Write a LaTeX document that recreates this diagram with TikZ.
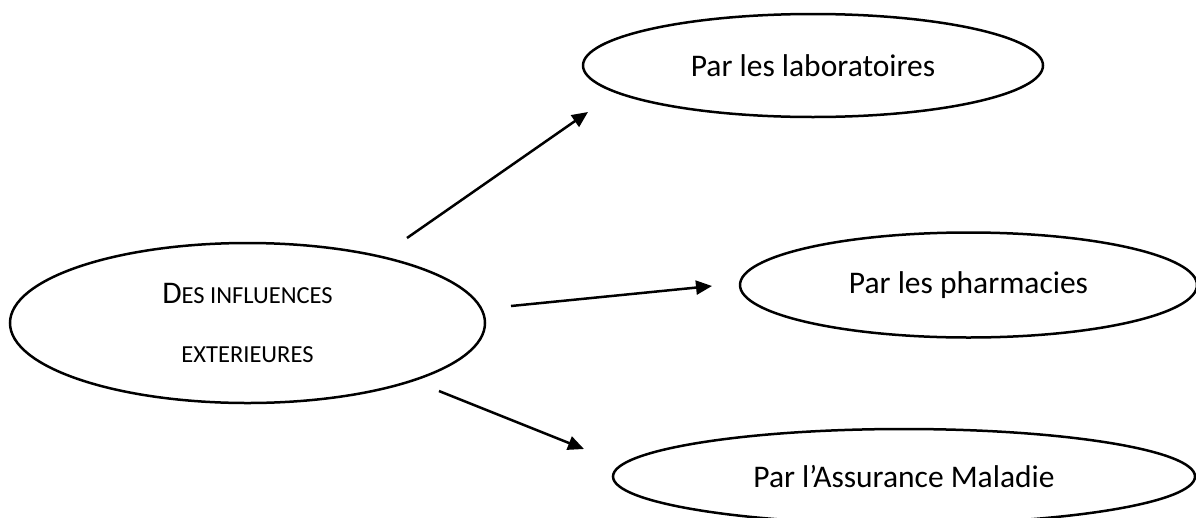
\documentclass[tikz,border=0pt]{standalone}
\usepackage{fontspec}
\setmainfont{Carlito}
\usetikzlibrary{shapes.geometric,arrows.meta}
\newcommand\fakesc[1]{{\fontsize{24.5}{59}\selectfont #1}}
\begin{document}
\begin{tikzpicture}[x=1pt,y=-1pt,
  bubble/.style={draw,ellipse,line width=2.5pt,inner sep=0pt,align=center,
    font=\fontsize{31.5}{38}\selectfont},
  arr/.style={line width=2.5pt,-{Triangle[length=16pt,width=14pt]}}]
\useasboundingbox (0,0) rectangle (1196,517);
\fill[white] (0,0) rectangle (1196,517);
\node[bubble,minimum width=475pt,minimum height=160pt,font=\fontsize{31.5}{59}\selectfont]
  (src) at (247.5,323) {D\fakesc{ES INFLUENCES}\\\fakesc{EXTERIEURES}};
\node[bubble,minimum width=460pt,minimum height=103pt] (lab) at (813,65.5) {Par les laboratoires};
\node[bubble,minimum width=457pt,minimum height=105pt] (pha) at (968.5,285) {Par les pharmacies};
\node[bubble,minimum width=582pt,minimum height=95pt] (ass) at (904,476.5) {Par l’Assurance Maladie};
\coordinate (s1) at ([shift={(159.5,-85)}]src.center);
\coordinate (e1) at ([shift={(-225,46.5)}]lab.center);
\coordinate (s2) at ([shift={(263.5,-17)}]src.center);
\coordinate (e2) at ([shift={(-256.5,1)}]pha.center);
\coordinate (s3) at ([shift={(191.5,68)}]src.center);
\coordinate (e3) at ([shift={(-320,-27.5)}]ass.center);
\draw[arr] (s1) -- (e1);
\draw[arr] (s2) -- (e2);
\draw[arr] (s3) -- (e3);
\end{tikzpicture}
\end{document}
